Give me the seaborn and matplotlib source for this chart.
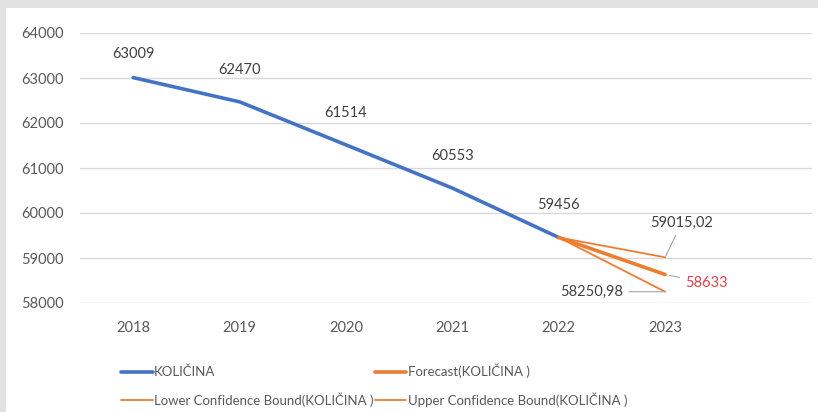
import numpy as np
import pandas as pd
import matplotlib
matplotlib.use("Agg")
import matplotlib.pyplot as plt
from matplotlib.patches import Rectangle
import seaborn as sns

years = ["2018", "2019", "2020", "2021", "2022", "2023"]
kolicina = [63009, 62470, 61514, 60553, 59456]
forecast_years = ["2022", "2023"]
forecast = [59456, 58633]
lower = [59456, 58250.98]
upper = [59456, 59015.02]
y_ticks = [58000, 59000, 60000, 61000, 62000, 63000, 64000]

sns.set_theme(style="white")
plt.rcParams["font.family"] = ["Lato", "DejaVu Sans"]

W, H = 818, 412
fig = plt.figure(figsize=(W / 100, H / 100), dpi=100)
fig.patch.set_facecolor("#e2e2e2")
fig.patches.append(Rectangle((6 / W, 0), 1 - 6 / W, 1 - 8 / H, transform=fig.transFigure,
                             facecolor="white", edgecolor="none", zorder=-10))

ax = fig.add_axes([80 / W, 1 - 303 / H, (812 - 80) / W, (303 - 33) / H])
ax.set_facecolor("none")
ax.set_zorder(1)

pos = {y: i for i, y in enumerate(years)}
df_k = pd.DataFrame({"x": [pos[y] for y in years[:len(kolicina)]], "v": kolicina})
df_f = pd.DataFrame({"x": [pos[y] for y in forecast_years], "f": forecast, "lo": lower, "up": upper})

blue = "#4472C4"
orange = "#ED7D31"
sns.lineplot(data=df_k, x="x", y="v", ax=ax, color=blue, linewidth=2.6, label="KOLIČINA", zorder=3)
sns.lineplot(data=df_f, x="x", y="lo", ax=ax, color=orange, linewidth=1.3,
             label="Lower Confidence Bound(KOLIČINA )", zorder=3)
sns.lineplot(data=df_f, x="x", y="f", ax=ax, color=orange, linewidth=2.6,
             label="Forecast(KOLIČINA )", zorder=4)
sns.lineplot(data=df_f, x="x", y="up", ax=ax, color=orange, linewidth=1.3,
             label="Upper Confidence Bound(KOLIČINA )", zorder=3)

ax.set_xlim(-0.5, 6.38)
ax.set_ylim(58000, 64000)
ax.set_yticks(y_ticks)
ax.set_yticklabels([str(t) for t in y_ticks])
ax.set_xticks([pos[y] for y in years])
ax.set_xticklabels(years)
ax.set_xlabel("")
ax.set_ylabel("")
for s in ax.spines.values():
    s.set_visible(False)
ax.grid(axis="y", color="#d9d9d9", linewidth=1)
ax.grid(axis="x", visible=False)
ax.tick_params(axis="y", length=0, pad=12, labelsize=10.5, labelcolor="#595959")
ax.tick_params(axis="x", length=0, pad=13, labelsize=10.5, labelcolor="#595959")

# data labels
txt = "#404040"
for i, v in enumerate(kolicina):
    off = 12 if i == 0 else 18
    ax.annotate(str(v), (i, v), xytext=(0, off), textcoords="offset points",
                ha="center", va="bottom", fontsize=10.5, color=txt)

xe = pos[forecast_years[1]]
lead = dict(arrowstyle="-", color="#a6a6a6", lw=0.8, shrinkA=2, shrinkB=1)
ax.annotate(f"{upper[1]:.2f}".replace(".", ","), (xe, upper[1]), xytext=(12, 25),
            textcoords="offset points", ha="center", va="center", fontsize=10.5, color=txt,
            arrowprops=lead)
ax.annotate(str(forecast[1]), (xe, forecast[1]), xytext=(30, -6),
            textcoords="offset points", ha="center", va="center", fontsize=10.5, color="#e0404a",
            arrowprops=dict(lead, shrinkB=3))
ax.annotate(f"{lower[1]:.2f}".replace(".", ","), (xe, lower[1]), xytext=(-53, 0),
            textcoords="offset points", ha="center", va="center", fontsize=10.5, color=txt,
            arrowprops=lead)

h, l = ax.get_legend_handles_labels()
leg = ax.legend(h, l, ncol=2, loc="upper left",
                bbox_to_anchor=(121 / W, 1 - 364 / H), bbox_transform=fig.transFigure,
                frameon=False, fontsize=9.5, handlelength=2.4, handletextpad=0.1,
                columnspacing=0.1, labelspacing=1.05, borderaxespad=0, borderpad=0)
for t in leg.get_texts():
    t.set_color("#595959")

fig.savefig("out.png", dpi=100)
